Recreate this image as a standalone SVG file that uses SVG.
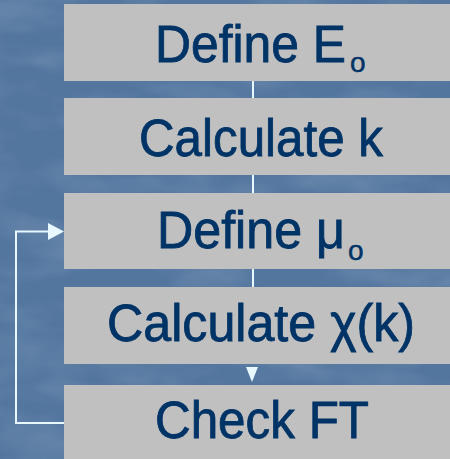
<svg xmlns="http://www.w3.org/2000/svg" width="450" height="459" viewBox="0 0 450 459">
  <defs>
    <filter id="tex" x="0" y="0" width="100%" height="100%">
      <feTurbulence type="fractalNoise" baseFrequency="0.012 0.03" numOctaves="3" seed="4"/>
      <feColorMatrix type="matrix" values="0 0 0 0 1  0 0 0 0 1  0 0 0 0 1  0.9 0 0 0 -0.35"/>
    </filter>
    <style>
      .box { fill: #c0c0c0; }
      .lbl { font-family: "Liberation Sans", "DejaVu Sans", sans-serif; font-size: 51px; fill: #003366; stroke: #003366; stroke-width: 0.8; }
      .sub { font-family: "Liberation Sans", "DejaVu Sans", sans-serif; font-size: 28px; fill: #003366; stroke: #003366; stroke-width: 0.5; }
      .ln { stroke: #e8f8ff; stroke-width: 2; fill: none; }
      .ah { fill: #e8f8ff; }
    </style>
  </defs>
  <rect width="450" height="459" fill="#53769f"/>
  <rect width="450" height="459" filter="url(#tex)" opacity="0.3"/>

  <g id="connectors">
    <line class="ln" x1="253" y1="81" x2="253" y2="98"/>
    <line class="ln" x1="253" y1="175" x2="253" y2="193"/>
    <line class="ln" x1="253" y1="269" x2="253" y2="287"/>
    <polygon class="ah" points="246,367 258,367 252,382"/>
    <polyline class="ln" points="64,423 16,423 16,231.5 50,231.5"/>
    <polygon class="ah" points="48,223 64,231.5 48,240"/>
  </g>

  <g id="node-define-e0">
    <rect class="box" x="64" y="4" width="386" height="77"/>
    <text class="lbl" x="155" y="62" textLength="191" lengthAdjust="spacingAndGlyphs">Define E</text>
    <text class="sub" x="350" y="72">o</text>
  </g>
  <g id="node-calculate-k">
    <rect class="box" x="64" y="98" width="386" height="77"/>
    <text class="lbl" x="139" y="156" textLength="244" lengthAdjust="spacingAndGlyphs">Calculate k</text>
  </g>
  <g id="node-define-mu0">
    <rect class="box" x="64" y="193" width="386" height="76"/>
    <text class="lbl" x="157" y="248" textLength="188" lengthAdjust="spacingAndGlyphs">Define μ</text>
    <text class="sub" x="348" y="260">o</text>
  </g>
  <g id="node-calculate-chi">
    <rect class="box" x="64" y="287" width="386" height="77"/>
    <text class="lbl" x="107" y="341" textLength="308" lengthAdjust="spacingAndGlyphs">Calculate χ(k)</text>
  </g>
  <g id="node-check-ft">
    <rect class="box" x="64" y="385" width="386" height="74"/>
    <text class="lbl" x="155" y="438" textLength="214" lengthAdjust="spacingAndGlyphs">Check FT</text>
  </g>
</svg>
